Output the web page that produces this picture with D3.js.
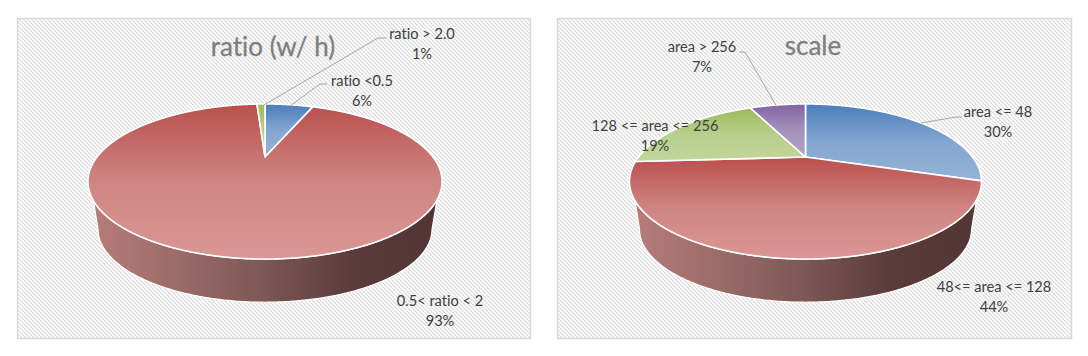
<!DOCTYPE html>
<html><head><meta charset="utf-8">
<script src="https://cdn.jsdelivr.net/npm/d3@7/dist/d3.min.js"></script>
<style>html,body{margin:0;padding:0;background:#fff}svg{display:block}text{font-family:Lato,"Open Sans",sans-serif;font-variant-ligatures:none}</style>
</head><body><svg id="c" width="1088" height="356"></svg>
<script>
const ratioCategories = ["ratio <0.5", "0.5< ratio < 2", "ratio > 2.0"];
const ratioValues = [6, 93, 1];
const scaleCategories = ["area <= 48", "48<= area <= 128", "128 <= area <= 256", "area > 256"];
const scaleValues = [30, 44, 19, 7];
const titles = ["ratio (w/ h)", "scale"];

const palette = [["#4a7ebb","#84a6d0","#95b3d7"],["#ba4f4d","#cf8583","#da9795"],["#9bbb59","#b8cf8d","#c3d69b"],["#8064a2","#a592bc","#b2a2c7"]];
const svg = d3.select("#c");
const defs = svg.append("defs");

const pat = defs.append("pattern").attr("id","hatch").attr("patternUnits","userSpaceOnUse")
  .attr("width",4).attr("height",4);
pat.append("rect").attr("width",4).attr("height",4).attr("fill","#fff");
pat.append("path").attr("d","M-1,-1L5,5M-1,3L1,5M3,-1L5,1").attr("stroke","#d9d9d9").attr("stroke-width",1.2);

palette.forEach((c,i)=>{
  const g = defs.append("linearGradient").attr("id","top"+i).attr("x1",0).attr("y1",0).attr("x2",0).attr("y2",1);
  g.append("stop").attr("offset",0).attr("stop-color",c[0]);
  g.append("stop").attr("offset",0.5).attr("stop-color",c[1]);
  g.append("stop").attr("offset",1).attr("stop-color",c[2]);
});
const wg = defs.append("linearGradient").attr("id","wall").attr("x1",0).attr("y1",0).attr("x2",1).attr("y2",0);
[[0,"#b67c7a"],[0.25,"#9a6b68"],[0.5,"#7b5755"],[0.75,"#5a3b3b"],[1,"#523534"]].forEach(s=>
  wg.append("stop").attr("offset",s[0]).attr("stop-color",s[1]));

const C = 0.316, B = 69.8;
const deg = d => d*Math.PI/180;
const line = d3.line();
const pie = d3.pie().sort(null);

function drawChart(o){
  const project = (a, s=1, dy=0) => {
    const u = Math.sin(a), v = Math.cos(a), d = 1 + C*v;
    return [o.cx + s*o.r*u/d, o.cy + dy - s*B*v/d];
  };
  const g = svg.append("g");
  g.append("rect").attr("x",o.x+0.5).attr("y",18.5).attr("width",o.w).attr("height",320)
    .attr("fill","url(#hatch)").attr("stroke","#d9d9d9").attr("stroke-width",1.5);

  // side wall
  const topRim = d3.range(deg(121), deg(239), 0.01).map(a=>project(a));
  const botRim = d3.range(deg(251.6), deg(108.4), -0.01).map(a=>project(a,0.943,49));
  g.append("path").attr("d",line(topRim.concat(botRim))+"Z").attr("fill","url(#wall)")
    .attr("stroke","#fff").attr("stroke-width",1.2).attr("stroke-linejoin","round");

  // top face
  pie(o.values).forEach((s,i)=>{
    const pts = d3.range(s.startAngle, s.endAngle, 0.004).concat([s.endAngle]).map(a=>project(a));
    g.append("path").attr("d",line([[o.cx,o.cy]].concat(pts))+"Z")
      .attr("fill",`url(#top${i})`).attr("stroke","#fff").attr("stroke-width",1.6).attr("stroke-linejoin","round");
  });

  // leaders
  o.leaders.forEach(l=>g.append("path").attr("d",line(l)).attr("fill","none")
    .attr("stroke","#a6a6a6").attr("stroke-width",1));

  // labels
  g.append("text").attr("x",o.title[0]).attr("y",o.title[1]).attr("text-anchor","middle")
    .attr("font-size",26).attr("fill","#7f7f7f").attr("stroke","#7f7f7f").attr("stroke-width",0.3).text(o.titleText);
  o.categories.forEach((cat,i)=>{
    const p = o.labels[i];
    g.append("text").attr("x",p[0]).attr("y",p[1]).attr("text-anchor","middle")
      .attr("font-size",14.6).attr("fill","#404040").text(cat);
    g.append("text").attr("x",p[0]).attr("y",p[1]+20).attr("text-anchor","middle")
      .attr("font-size",14.6).attr("fill","#404040").text(o.values[i]+"%");
  });
}

drawChart({x:17,w:513,cx:265,cy:157,r:168,values:ratioValues,categories:ratioCategories,titleText:titles[0],
  title:[273,56],
  labels:[[362,86],[440,306],[422,39]],
  leaders:[[[387,38],[378,38],[264,105]],[[327,84],[320,84],[290,106]]]});
drawChart({x:557,w:514,cx:805.5,cy:157,r:167,values:scaleValues,categories:scaleCategories,titleText:titles[1],
  title:[813,55],
  labels:[[998,117],[994,292],[655,131],[702,52]],
  leaders:[[[962,117],[956,117],[921,123]],[[739,52],[745,52],[777,107]]]});
</script></body></html>
